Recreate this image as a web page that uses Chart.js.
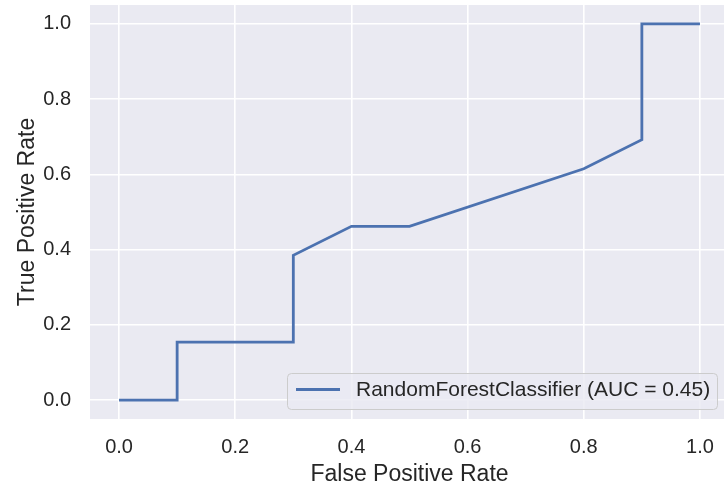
<!DOCTYPE html>
<html>
<head>
<meta charset="utf-8">
<script src="https://cdn.jsdelivr.net/npm/chart.js@4.4.1/dist/chart.umd.min.js"></script>
<style>
  html, body { margin: 0; padding: 0; background: #fff; }
  #clip { width: 724px; height: 491px; overflow: hidden; }
  #wrap { width: 730px; height: 491px; position: relative; }
</style>
</head>
<body>
<div id="clip"><div id="wrap"><canvas id="roc"></canvas></div></div>
<script>
const fpr = [0, 0.1, 0.1, 0.3, 0.3, 0.4, 0.5, 0.8, 0.9, 0.9, 1.0];
const tpr = [0, 0, 0.154, 0.154, 0.385, 0.462, 0.462, 0.615, 0.692, 1.0, 1.0];
const seriesLabel = 'RandomForestClassifier (AUC = 0.45)';
const xTicks = [0, 0.2, 0.4, 0.6, 0.8, 1.0];
const yTicks = [0, 0.2, 0.4, 0.6, 0.8, 1.0];

const FONT = '"Liberation Sans", Arial, "DejaVu Sans", sans-serif';
const INK = '#262626';

const plotBackground = {
    id: 'plotBackground',
    beforeDraw: (chart) => {
        const { ctx, chartArea: a } = chart;
        ctx.save();
        ctx.fillStyle = '#EAEAF2';
        ctx.fillRect(a.left, a.top, a.right - a.left, a.bottom - a.top);
        ctx.restore();
    }
};

// legend box in the lower right, like matplotlib's loc="lower right"
const cornerLegend = {
    id: 'cornerLegend',
    afterDraw: (chart) => {
        const ctx = chart.ctx;
        const ds = chart.data.datasets[0];
        const x = 287, y = 373, w = 430, h = 36, r = 4;
        ctx.save();
        ctx.beginPath();
        ctx.roundRect(x + 0.5, y + 0.5, w, h, r);
        ctx.fillStyle = 'rgba(234,234,242,0.8)';
        ctx.fill();
        ctx.strokeStyle = '#CCCCCC';
        ctx.lineWidth = 1;
        ctx.stroke();
        ctx.beginPath();
        ctx.moveTo(x + 9, y + 16.5);
        ctx.lineTo(x + 53, y + 16.5);
        ctx.strokeStyle = ds.borderColor;
        ctx.lineWidth = ds.borderWidth;
        ctx.stroke();
        ctx.fillStyle = INK;
        ctx.font = '21px ' + FONT;
        ctx.textBaseline = 'middle';
        ctx.fillText(ds.label, x + 69, y + 17);
        ctx.restore();
    }
};

function noPad(s) {
    s.paddingTop = 0;
    s.paddingBottom = 0;
    s.paddingLeft = 0;
    s.paddingRight = 0;
}

new Chart(document.getElementById('roc'), {
    type: 'scatter',
    data: {
        datasets: [{
            label: seriesLabel,
            data: fpr.map((v, i) => ({ x: v, y: tpr[i] })),
            showLine: true,
            borderColor: '#4C72B0',
            backgroundColor: '#4C72B0',
            borderWidth: 2.8,
            pointRadius: 0,
            tension: 0
        }]
    },
    options: {
        responsive: true,
        maintainAspectRatio: false,
        animation: false,
        layout: { padding: { top: 5, right: 1, left: 0, bottom: 0 } },
        plugins: { legend: { display: false }, tooltip: { enabled: false } },
        scales: {
            x: {
                type: 'linear',
                min: -0.05,
                max: 1.05,
                afterFit: (s) => { s.height = 72; noPad(s); },
                afterBuildTicks: (s) => { s.ticks = xTicks.map(v => ({ value: v })); },
                border: { display: false },
                grid: { color: '#FFFFFF', lineWidth: 1.6, drawTicks: false },
                ticks: {
                    padding: 16,
                    color: INK,
                    font: { family: FONT, size: 20 },
                    callback: (v) => v.toFixed(1)
                },
                title: {
                    display: true,
                    text: 'False Positive Rate',
                    color: INK,
                    font: { family: FONT, size: 23 },
                    padding: { top: 0, bottom: 3 }
                }
            },
            y: {
                type: 'linear',
                min: -0.05,
                max: 1.05,
                afterFit: (s) => { s.width = 90; noPad(s); },
                afterBuildTicks: (s) => { s.ticks = yTicks.map(v => ({ value: v })); },
                border: { display: false },
                grid: { color: '#FFFFFF', lineWidth: 1.6, drawTicks: false },
                ticks: {
                    padding: 19,
                    color: INK,
                    font: { family: FONT, size: 20 },
                    callback: (v) => v.toFixed(1)
                },
                title: {
                    display: true,
                    text: 'True Positive Rate',
                    color: INK,
                    font: { family: FONT, size: 23 },
                    padding: { top: 14, bottom: 0 }
                }
            }
        }
    },
    plugins: [plotBackground, cornerLegend]
});
</script>
</body>
</html>
